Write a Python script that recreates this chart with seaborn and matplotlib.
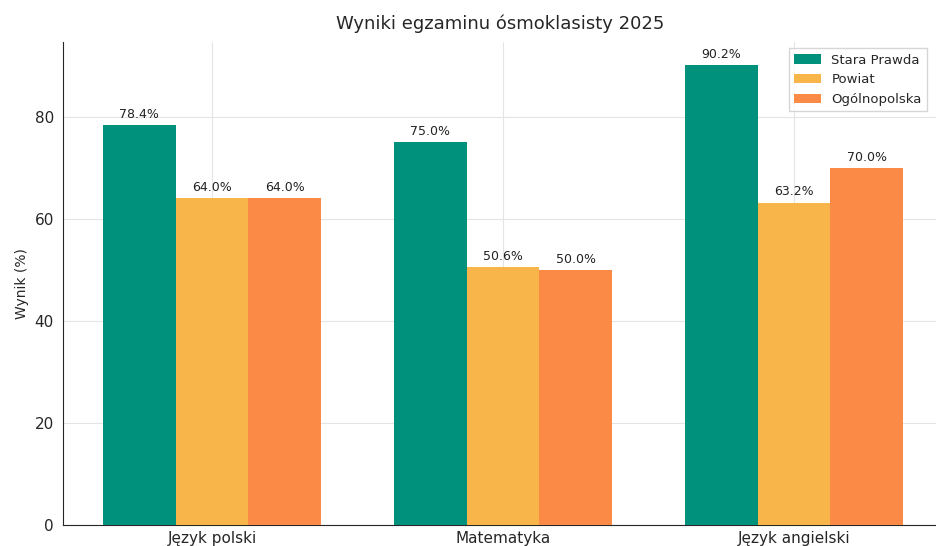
import matplotlib
matplotlib.use("Agg")
import matplotlib.pyplot as plt
import seaborn as sns
import pandas as pd

przedmioty = ["Język polski", "Matematyka", "Język angielski"]
stara_prawda = [78.4, 75.0, 90.2]
powiat = [64.0, 50.6, 63.2]
ogolnopolska = [64.0, 50.0, 70.0]
serie = ["Stara Prawda", "Powiat", "Ogólnopolska"]
kolory = ["#00917c", "#f8b54a", "#fa8a45"]

df = pd.DataFrame({
    "Przedmiot": przedmioty * 3,
    "Wynik": stara_prawda + powiat + ogolnopolska,
    "Seria": [s for s in serie for _ in przedmioty],
})

sns.set_style("white")
plt.rcParams["font.family"] = ["DejaVu Sans"]

fig = plt.figure(figsize=(9.37, 5.46), dpi=100)
ax = fig.add_axes([63 / 937, 0.0385, 874 / 937, 0.885])

sns.barplot(data=df, x="Przedmiot", y="Wynik", hue="Seria", palette=kolory,
            width=0.75, saturation=1, errorbar=None, ax=ax, zorder=3,
            linewidth=0)

for cont in ax.containers:
    ax.bar_label(cont, fmt="%.1f%%", padding=3, fontsize=9, color="#222222")

ax.set_xlim(-0.512, 2.491)
ax.grid(True, color="#e4e4e4", linewidth=0.8, zorder=0)
ax.set_axisbelow(True)
sns.despine(ax=ax)
ax.set_yticks([0, 20, 40, 60, 80])
ax.tick_params(axis="y", labelsize=11, length=3)
ax.tick_params(axis="x", labelsize=11, length=3, pad=1)
ax.set_xlabel("")
ax.set_ylabel("Wynik (%)", fontsize=10)
ax.set_title("Wyniki egzaminu ósmoklasisty 2025", fontsize=13, pad=9)
ax.legend(title=None, loc="upper right", fontsize=9.5, frameon=True,
          fancybox=False, edgecolor="#cccccc", bbox_to_anchor=(0.996, 1.0))

fig.savefig("out.png", dpi=100)
